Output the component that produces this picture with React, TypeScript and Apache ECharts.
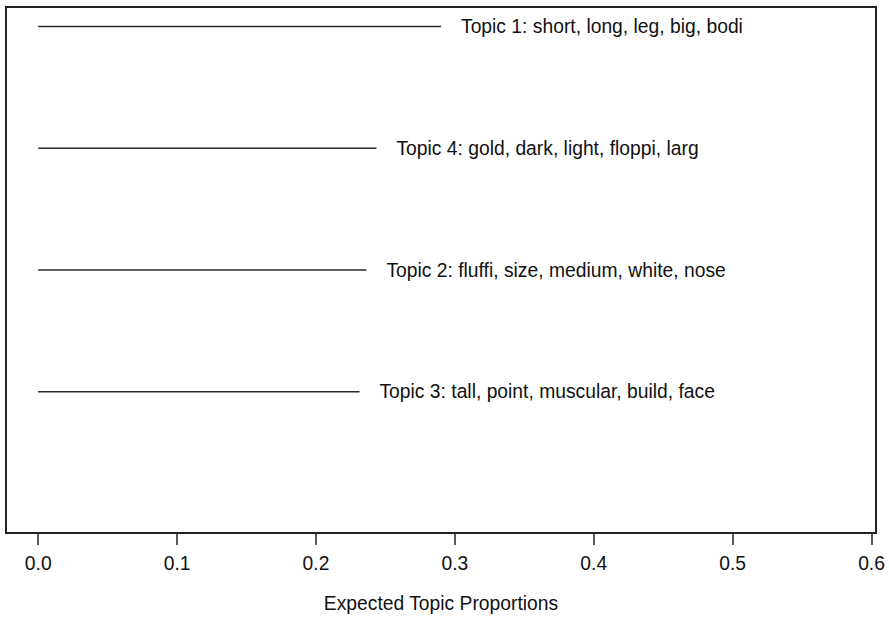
import React, { useEffect, useRef } from "react";
import * as echarts from "echarts";

// Topics in plotting order (top to bottom)
const topicLabels = [
  "Topic 1: short, long, leg, big, bodi",
  "Topic 4: gold, dark, light, floppi, larg",
  "Topic 2: fluffi, size, medium, white, nose",
  "Topic 3: tall, point, muscular, build, face",
];
const topicProportions = [0.29, 0.2435, 0.2363, 0.2313];
const topicRows = [4, 3, 2, 1];
const tickValues = [0, 0.1, 0.2, 0.3, 0.4, 0.5, 0.6];
const axisTitle = "Expected Topic Proportions";

const FONT = "'Liberation Sans', Arial, Helvetica, sans-serif";

export default function App() {
  const ref = useRef<HTMLDivElement>(null);
  useEffect(() => {
    if (!ref.current) return;
    const chart = echarts.init(ref.current, undefined, { renderer: "svg" });
    const series = topicLabels.map((label, i) => ({
      type: "line",
      data: [
        [0, topicRows[i]],
        [topicProportions[i], topicRows[i]],
      ],
      symbol: "none",
      silent: true,
      lineStyle: { color: "#2a2a2a", width: 1.5 },
      endLabel: {
        show: true,
        formatter: () => label,
        distance: 20,
        color: "#111",
        fontFamily: FONT,
        fontSize: 19.3,
      },
    }));
    chart.setOption({
      animation: false,
      backgroundColor: "#fff",
      grid: {
        show: true,
        left: 6,
        right: 13,
        top: 7,
        bottom: 84,
        borderColor: "#222",
        borderWidth: 2,
        containLabel: false,
      },
      xAxis: {
        type: "value",
        position: "bottom",
        min: -0.0232,
        max: 0.6032,
        name: axisTitle,
        nameLocation: "middle",
        nameGap: 61,
        nameTextStyle: { color: "#111", fontFamily: FONT, fontSize: 19.3 },
        axisLine: { show: true, onZero: false, lineStyle: { color: "#222", width: 2 } },
        axisTick: {
          show: true,
          inside: false,
          customValues: tickValues,
          length: 12,
          lineStyle: { color: "#222", width: 1.5 },
        },
        axisLabel: {
          customValues: tickValues,
          formatter: (v: number) => v.toFixed(1),
          color: "#111",
          fontFamily: FONT,
          fontSize: 19.3,
          margin: 21,
        },
        splitLine: { show: false },
      },
      yAxis: {
        type: "value",
        min: -0.16,
        max: 4.16,
        show: false,
        splitLine: { show: false },
      },
      series,
    });
    return () => chart.dispose();
  }, []);
  return (
    <div
      ref={ref}
      style={{ position: "absolute", left: 0, top: 0, width: 889, height: 618 }}
    />
  );
}
